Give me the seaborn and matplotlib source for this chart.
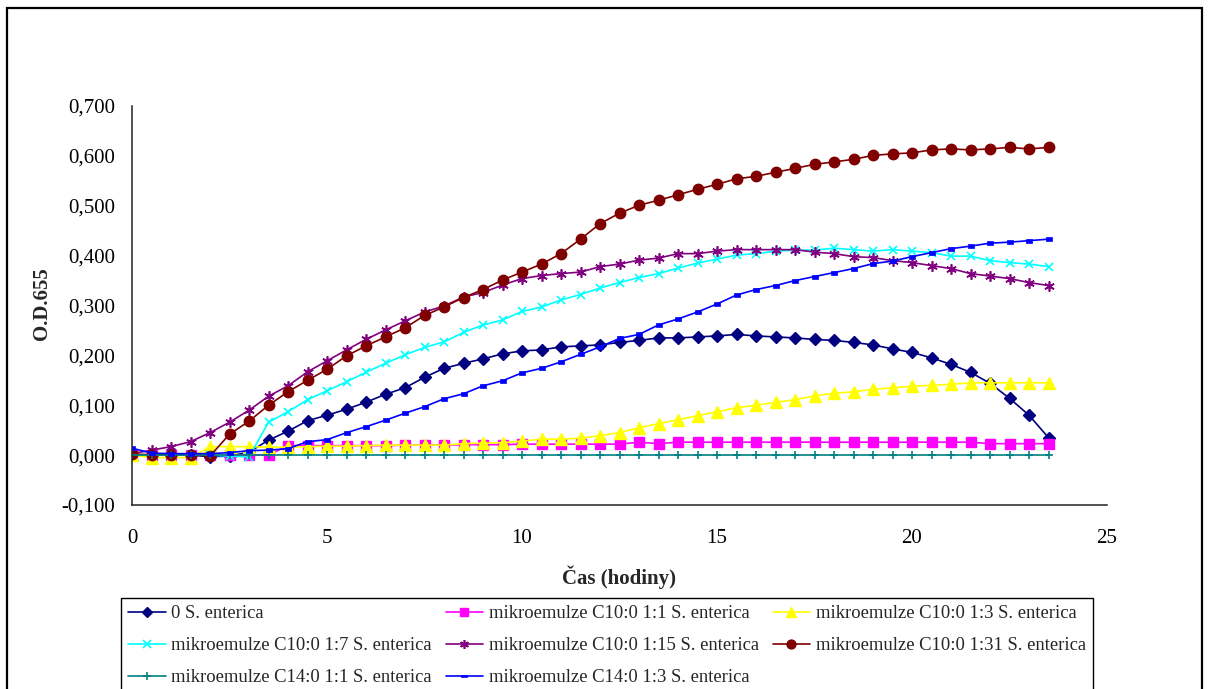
import numpy as np
import pandas as pd
import matplotlib
matplotlib.use("Agg")
import matplotlib.pyplot as plt
from matplotlib.patches import Rectangle
from matplotlib.path import Path
from matplotlib.ticker import FuncFormatter, MultipleLocator
import seaborn as sns

# Sampling times (hours), every half hour
hours = np.arange(0, 24, 0.5)

s_enterica_0 = [
    0.000, 0.000, 0.000, 0.000, -0.003, -0.002, 0.006, 0.030,
    0.048, 0.069, 0.080, 0.092, 0.106, 0.122, 0.135, 0.156,
    0.174, 0.184, 0.193, 0.203, 0.209, 0.211, 0.217, 0.219,
    0.221, 0.226, 0.230, 0.235, 0.235, 0.237, 0.239, 0.242,
    0.239, 0.237, 0.235, 0.232, 0.230, 0.226, 0.221, 0.213,
    0.206, 0.195, 0.182, 0.166, 0.144, 0.114, 0.080, 0.035,
]
c10_1_1 = [
    0.000, 0.000, 0.000, 0.000, 0.000, 0.000, 0.000, 0.000,
    0.019, 0.019, 0.019, 0.019, 0.019, 0.019, 0.020, 0.020,
    0.020, 0.021, 0.021, 0.021, 0.022, 0.022, 0.022, 0.022,
    0.022, 0.022, 0.026, 0.023, 0.026, 0.026, 0.026, 0.026,
    0.026, 0.026, 0.026, 0.026, 0.026, 0.026, 0.026, 0.026,
    0.026, 0.026, 0.026, 0.026, 0.023, 0.023, 0.023, 0.023,
]
c10_1_3 = [
    0.000, -0.005, -0.005, -0.005, 0.017, 0.017, 0.017, 0.016,
    0.016, 0.017, 0.018, 0.018, 0.019, 0.020, 0.020, 0.020,
    0.020, 0.023, 0.024, 0.025, 0.028, 0.032, 0.032, 0.034,
    0.039, 0.045, 0.055, 0.063, 0.071, 0.079, 0.087, 0.095,
    0.100, 0.106, 0.111, 0.119, 0.124, 0.127, 0.132, 0.135,
    0.138, 0.140, 0.142, 0.145, 0.145, 0.145, 0.145, 0.145,
]
c10_1_7 = [
    0.000, 0.000, 0.000, 0.000, 0.000, -0.002, -0.004, 0.066,
    0.087, 0.111, 0.129, 0.147, 0.166, 0.184, 0.201, 0.216,
    0.227, 0.246, 0.261, 0.271, 0.288, 0.297, 0.311, 0.322,
    0.335, 0.346, 0.356, 0.364, 0.375, 0.385, 0.393, 0.401,
    0.404, 0.409, 0.411, 0.411, 0.415, 0.412, 0.409, 0.412,
    0.409, 0.406, 0.399, 0.399, 0.390, 0.386, 0.383, 0.378,
]
c10_1_15 = [
    0.003, 0.010, 0.017, 0.027, 0.045, 0.066, 0.090, 0.118,
    0.139, 0.167, 0.189, 0.211, 0.232, 0.251, 0.269, 0.287,
    0.299, 0.317, 0.326, 0.341, 0.354, 0.360, 0.364, 0.367,
    0.378, 0.383, 0.391, 0.395, 0.404, 0.404, 0.409, 0.412,
    0.412, 0.412, 0.412, 0.407, 0.404, 0.398, 0.396, 0.390,
    0.386, 0.380, 0.374, 0.364, 0.359, 0.354, 0.346, 0.340,
]
c10_1_31 = [
    0.002, 0.001, 0.001, 0.001, -0.002, 0.042, 0.068, 0.100,
    0.127, 0.150, 0.172, 0.199, 0.219, 0.237, 0.255, 0.280,
    0.297, 0.316, 0.332, 0.351, 0.367, 0.383, 0.404, 0.433,
    0.464, 0.485, 0.501, 0.511, 0.522, 0.533, 0.543, 0.554,
    0.559, 0.567, 0.575, 0.583, 0.588, 0.593, 0.601, 0.604,
    0.606, 0.612, 0.614, 0.612, 0.614, 0.617, 0.614, 0.617,
]
c14_1_1 = [0.000] * 48
c14_1_3 = [
    0.014, 0.004, 0.003, 0.003, 0.003, 0.005, 0.009, 0.010,
    0.013, 0.027, 0.031, 0.045, 0.057, 0.070, 0.084, 0.097,
    0.113, 0.123, 0.139, 0.149, 0.165, 0.174, 0.187, 0.202,
    0.217, 0.234, 0.242, 0.261, 0.273, 0.287, 0.303, 0.321,
    0.332, 0.340, 0.350, 0.358, 0.366, 0.374, 0.384, 0.389,
    0.398, 0.406, 0.414, 0.419, 0.425, 0.427, 0.430, 0.433,
]

labels = [
    "0 S. enterica",
    "mikroemulze C10:0 1:1 S. enterica",
    "mikroemulze C10:0 1:3 S. enterica",
    "mikroemulze C10:0 1:7 S. enterica",
    "mikroemulze C10:0 1:15 S. enterica",
    "mikroemulze C10:0 1:31 S. enterica",
    "mikroemulze C14:0 1:1 S. enterica",
    "mikroemulze C14:0 1:3 S. enterica",
]
values = [s_enterica_0, c10_1_1, c10_1_3, c10_1_7, c10_1_15, c10_1_31, c14_1_1, c14_1_3]

# Short horizontal dash marker
dash_marker = Path([(-1, -0.45), (1, -0.45), (1, 0.45), (-1, 0.45), (-1, -0.45)],
                   [Path.MOVETO, Path.LINETO, Path.LINETO, Path.LINETO, Path.CLOSEPOLY])

styles = [
    dict(color="#000080", marker="D", ms=6.0, mew=1.0),
    dict(color="#FF00FF", marker="s", ms=6.5, mew=1.0),
    dict(color="#FFFF00", marker="^", ms=8.0, mew=1.0),
    dict(color="#00FFFF", marker="x", ms=6.0, mew=1.2),
    dict(color="#800080", marker=(6, 2, 0), ms=7.5, mew=1.2),
    dict(color="#800000", marker="o", ms=7.5, mew=1.0),
    dict(color="#008080", marker="+", ms=6.0, mew=1.2),
    dict(color="#0000FF", marker=dash_marker, ms=5.0, mew=0.5),
]

sns.set_style("white")
plt.rcParams["font.family"] = ["Liberation Serif", "DejaVu Serif"]
plt.rcParams["axes.unicode_minus"] = False

W, H = 1208, 689
fig = plt.figure(figsize=(W / 100, H / 100), dpi=100)
ax = fig.add_axes([132 / W, 1 - 505 / H, (1107 - 132) / W, (505 - 106) / H])

handles = []
for lab, vals, st in zip(labels, values, styles):
    df = pd.DataFrame({"Čas": hours, "OD": vals})
    sns.lineplot(data=df, x="Čas", y="OD", ax=ax, color=st["color"],
                 marker=st["marker"], markersize=st["ms"],
                 markeredgecolor=st["color"], markerfacecolor=st["color"],
                 markeredgewidth=st["mew"], linewidth=1.2, label=lab, legend=False)
    handles.append(ax.lines[-1])

ax.set_xlim(0, 25)
ax.set_ylim(-0.1, 0.7)
ax.xaxis.set_major_locator(MultipleLocator(5))
ax.yaxis.set_major_locator(MultipleLocator(0.1))
ax.yaxis.set_major_formatter(FuncFormatter(lambda v, _: f"{v:.3f}".replace(".", ",")))
ax.xaxis.set_major_formatter(FuncFormatter(lambda v, _: f"{v:.0f}"))

for side in ("top", "right"):
    ax.spines[side].set_visible(False)
for side in ("left", "bottom"):
    ax.spines[side].set_color("#222222")
    ax.spines[side].set_linewidth(1.1)
ax.tick_params(axis="both", direction="out", length=5, width=1.1, color="#222222",
               labelsize=15, labelcolor="black")
ax.tick_params(axis="x", pad=12)
ax.tick_params(axis="y", pad=7)

ax.set_xlabel("Čas (hodiny)", fontsize=15, fontweight="bold")
ax.set_ylabel("O.D.655", fontsize=15, fontweight="bold")
ax.xaxis.set_label_coords(0.5, (505 - 577) / 399)
ax.xaxis.label.set_verticalalignment("center")
ax.yaxis.set_label_coords((42 - 132) / 975, (505 - 304) / 399)
ax.yaxis.label.set_verticalalignment("center")

# Legend laid out row by row across three columns
order = [0, 3, 6, 1, 4, 7, 2, 5]
leg = ax.legend([handles[i] for i in order], [labels[i] for i in order],
                ncol=3, loc="upper left", bbox_to_anchor=(121 / W, 1 - 598 / H),
                bbox_transform=fig.transFigure, borderaxespad=0, fontsize=13.4,
                handlelength=2.0, handletextpad=0.3, columnspacing=0.75,
                labelspacing=0.8, borderpad=0.4, frameon=True, fancybox=False,
                framealpha=1, edgecolor="black", markerscale=0.85)
leg.get_frame().set_linewidth(1.0)

# Chart-area frame
fig.add_artist(Rectangle((7 / W, -0.05), (1201.5 - 7) / W, 1 - 7.5 / H + 0.05,
                         transform=fig.transFigure, fill=False, edgecolor="black",
                         linewidth=1.6, clip_on=False))

fig.savefig("out.png", dpi=100)
